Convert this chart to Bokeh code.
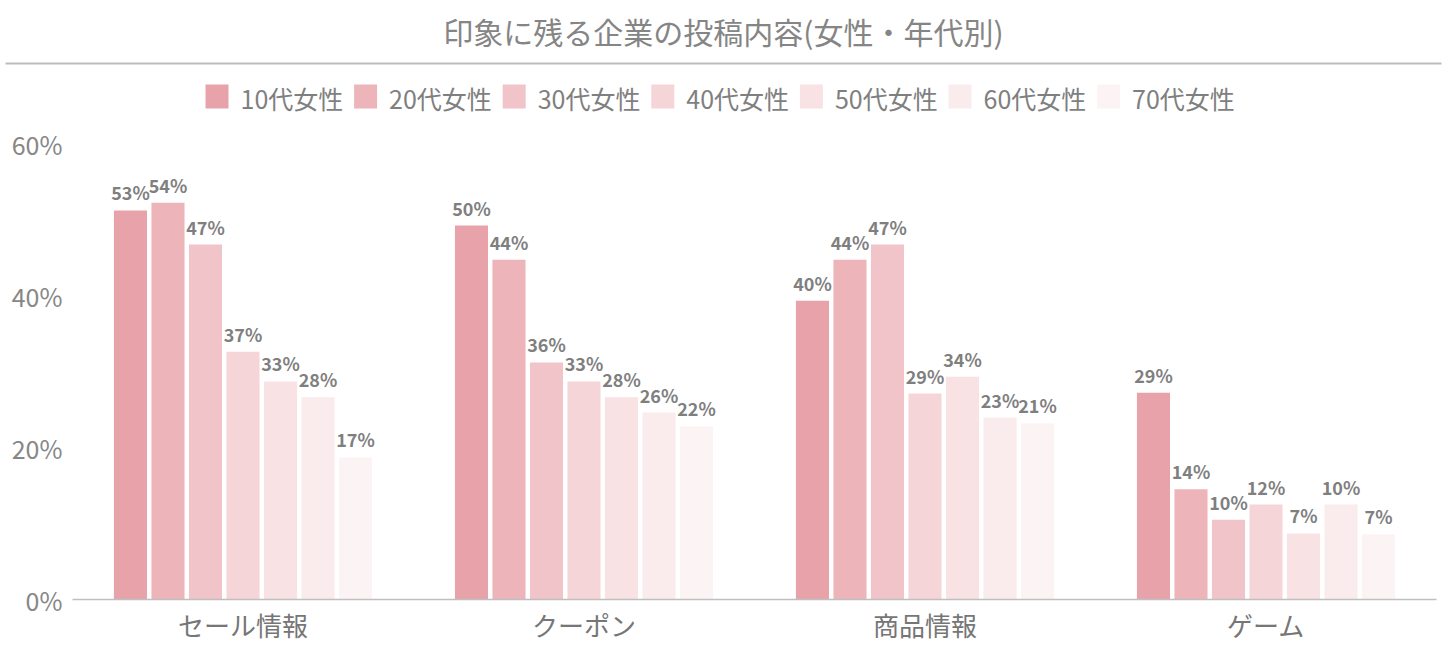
from bokeh.plotting import figure
from bokeh.models import FactorRange, Range1d, FixedTicker, PrintfTickFormatter, ColumnDataSource
from bokeh.transform import dodge
from bokeh.layouts import column, row
from bokeh.embed import file_html
from bokeh.resources import INLINE
from bokeh.core.properties import value

FONT = "Noto Sans CJK JP"

title_text = "印象に残る企業の投稿内容(女性・年代別)"
categories = ["セール情報", "クーポン", "商品情報", "ゲーム"]
series_names = ["10代女性", "20代女性", "30代女性", "40代女性", "50代女性", "60代女性", "70代女性"]

# bar heights (%) as drawn in the picture, per age group across categories
s10 = [51.2, 49.2, 39.3, 27.2]
s20 = [52.2, 44.7, 44.7, 14.5]
s30 = [46.7, 31.2, 46.7, 10.5]
s40 = [32.6, 28.7, 27.1, 12.5]
s50 = [28.7, 26.6, 29.3, 8.7]
s60 = [26.6, 24.6, 23.9, 12.5]
s70 = [18.7, 22.8, 23.2, 8.6]

# value labels as printed above the bars
l10 = ["53%", "50%", "40%", "29%"]
l20 = ["54%", "44%", "44%", "14%"]
l30 = ["47%", "36%", "47%", "10%"]
l40 = ["37%", "33%", "29%", "12%"]
l50 = ["33%", "28%", "34%", "7%"]
l60 = ["28%", "26%", "23%", "10%"]
l70 = ["17%", "22%", "21%", "7%"]

y_ticks = [0, 20, 40, 60]

series_values = [s10, s20, s30, s40, s50, s60, s70]
series_labels = [l10, l20, l30, l40, l50, l60, l70]
colors = ["#E8A3AA", "#EDB4BA", "#F1C4CA", "#F5D5D8", "#F8E2E4", "#FAEBEC", "#FCF4F4"]

HEADER_H = 118

# ---------- header: title, rule, legend (pixel coordinates) ----------
top = figure(width=1446, height=HEADER_H, x_range=Range1d(0, 1446), y_range=Range1d(HEADER_H, 0),
             output_backend="svg", toolbar_location=None,
             x_axis_location=None, y_axis_location=None,
             min_border=0, min_border_left=0, min_border_right=0, min_border_top=0, min_border_bottom=0)
top.outline_line_color = None
top.xgrid.visible = False
top.ygrid.visible = False

top.text(x=[723], y=[30], text=[title_text], text_align="center", text_baseline="middle",
         text_font=value(FONT), text_font_size="30px", text_color="#858585")
top.segment(x0=[5], y0=[63], x1=[1441], y1=[63], line_color="#BDBDBD", line_width=2)

leg_x0 = 205
leg_step = 148.6
for i, name in enumerate(series_names):
    x = leg_x0 + i * leg_step
    top.rect(x=[x + 11.5], y=[96], width=23, height=24, fill_color=colors[i], line_color=None)
    top.text(x=[x + 35], y=[97], text=[name], text_align="left", text_baseline="middle",
             text_font=value(FONT), text_font_size="25px", text_color="#7f7f7f")

# ---------- main chart ----------
p = figure(width=1446, height=648 - HEADER_H,
           x_range=FactorRange(factors=categories, range_padding=0),
           y_range=Range1d(0, (599 - HEADER_H) / 7.6),
           output_backend="svg", toolbar_location=None,
           min_border_left=72, min_border_right=10, min_border_top=0, min_border_bottom=49)
p.outline_line_color = None
p.xgrid.visible = False
p.ygrid.visible = False

step = 0.11
for i in range(7):
    src = ColumnDataSource(dict(x=categories, top=series_values[i], label=series_labels[i]))
    off = (i - 3) * step
    p.vbar(x=dodge("x", off, range=p.x_range), top="top", width=0.097, source=src,
           fill_color=colors[i], line_color=None)
    p.text(x=dodge("x", off, range=p.x_range), y="top", text="label", source=src,
           text_align="center", text_baseline="alphabetic", y_offset=-18,
           text_font=value(FONT), text_font_style="bold", text_font_size="18px",
           text_color="#7f7f7f")

xa = p.xaxis[0]
xa.axis_line_color = "#BFBFBF"
xa.axis_line_width = 1.5
xa.major_tick_line_color = None
xa.minor_tick_line_color = None
xa.major_label_text_font = FONT
xa.major_label_text_font_size = "26px"
xa.major_label_text_color = "#767676"
xa.major_label_standoff = 0

ya = p.yaxis[0]
ya.axis_line_color = None
ya.major_tick_line_color = None
ya.minor_tick_line_color = None
ya.ticker = FixedTicker(ticks=y_ticks)
ya.formatter = PrintfTickFormatter(format="%d%%")
ya.major_label_text_font = FONT
ya.major_label_text_font_size = "25px"
ya.major_label_text_color = "#878787"
ya.major_label_standoff = 4

layout = column(row(top), p, spacing=0)
open("out.html", "w").write(file_html(layout, INLINE))
